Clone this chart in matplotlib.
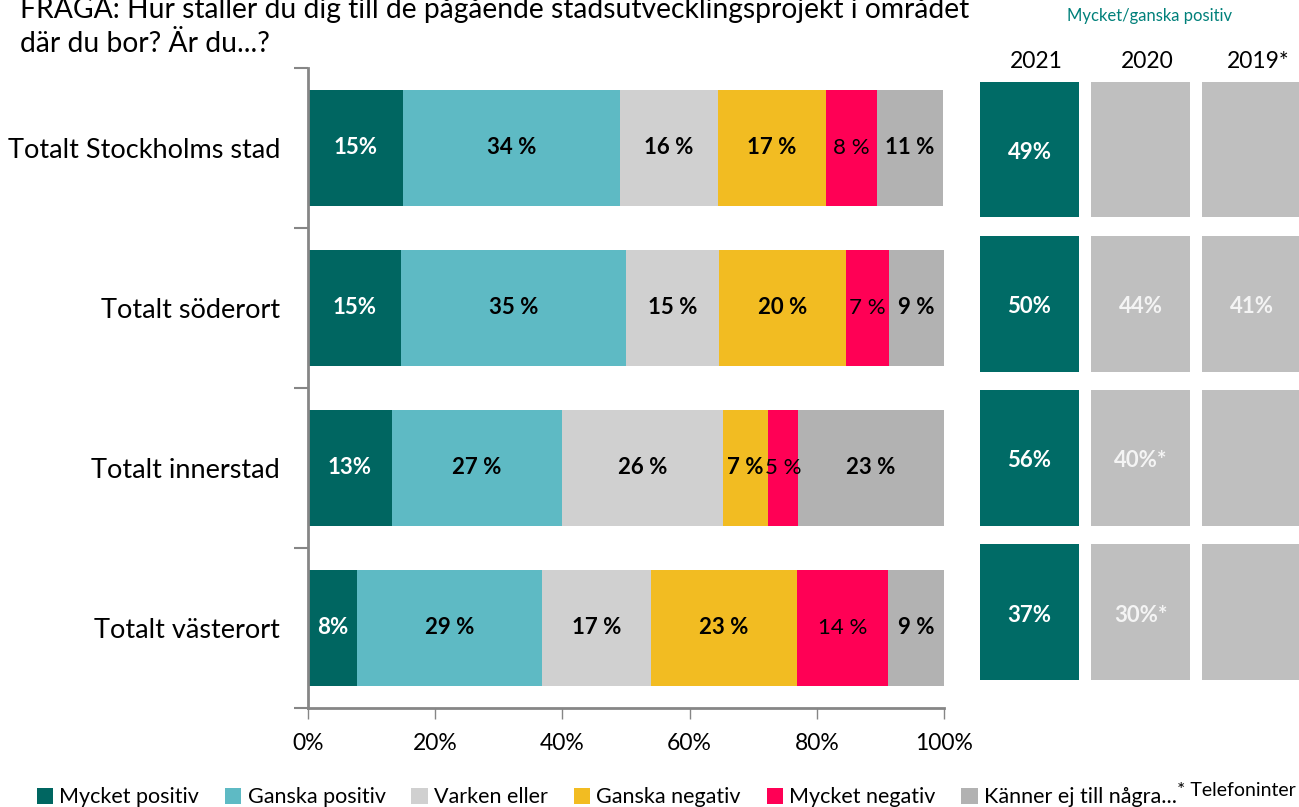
import matplotlib
matplotlib.use("Agg")
import matplotlib.pyplot as plt
from matplotlib.patches import Patch
import numpy as np

plt.rcParams['font.family'] = ['Lato', 'DejaVu Sans']

# areas (top to bottom)
areas = ["Totalt Stockholms stad", "Totalt söderort", "Totalt innerstad", "Totalt västerort"]
categories = ["Mycket positiv", "Ganska positiv", "Varken eller", "Ganska negativ",
              "Mycket negativ", "Känner ej till några..."]
colors = ["#006661", "#5EBAC4", "#D0D0D0", "#F2BC22", "#FF0055", "#B2B2B2"]

# shares in percent, one list per category, order follows areas
mycket_positiv = [14.9, 14.6, 13.2, 7.7]
ganska_positiv = [34.1, 35.4, 26.7, 29.1]
varken_eller = [15.4, 14.6, 25.4, 17.1]
ganska_negativ = [17.1, 20.0, 7.0, 23.0]
mycket_negativ = [7.9, 6.8, 4.7, 14.3]
kanner_ej = [10.5, 8.6, 23.0, 8.8]
series = [mycket_positiv, ganska_positiv, varken_eller, ganska_negativ, mycket_negativ, kanner_ej]

# labels printed in the bars
bar_labels = [
    ["15%", "15%", "13%", "8%"],
    ["34 %", "35 %", "27 %", "29 %"],
    ["16 %", "15 %", "26 %", "17 %"],
    ["17 %", "20 %", "7 %", "23 %"],
    ["8 %", "7 %", "5 %", "14 %"],
    ["11 %", "9 %", "23 %", "9 %"],
]

# right panel: Mycket/ganska positiv per year
years = ["2021", "2020", "2019*"]
pos_2021 = ["49%", "50%", "56%", "37%"]
pos_2020 = ["", "44%", "40%*", "30%*"]
pos_2019 = ["", "41%", "", ""]
year_vals = [pos_2021, pos_2020, pos_2019]

W, H = 1299, 807
fig = plt.figure(figsize=(W / 100, H / 100), dpi=100)

# main stacked bar chart
ax = fig.add_axes([308 / W, 1 - 708 / H, (944 - 308) / W, (708 - 68) / H])
y = np.arange(len(areas))
left = np.zeros(len(areas))
for i, (vals, col) in enumerate(zip(series, colors)):
    vals = np.array(vals)
    ax.barh(y, vals, left=left, height=0.72, color=col, edgecolor='none')
    for k in range(len(areas)):
        cx = left[k] + vals[k] / 2
        if i == 0:
            ax.text(cx, y[k], bar_labels[i][k], ha='center', va='center', color='white',
                    fontsize=16, fontweight='bold')
        elif i == 4:
            ax.text(cx, y[k], bar_labels[i][k], ha='center', va='center', color='black',
                    fontsize=16)
        else:
            ax.text(cx, y[k], bar_labels[i][k], ha='center', va='center', color='black',
                    fontsize=16, fontweight='bold')
    left += vals

ax.set_xlim(0, 100)
ax.set_ylim(3.5, -0.5)
ax.set_xticks([0, 20, 40, 60, 80, 100])
ax.set_xticklabels(["0%", "20%", "40%", "60%", "80%", "100%"], fontsize=16.5)
ax.set_yticks(y)
ax.set_yticklabels(areas, fontsize=19.5)
ax.set_yticks([-0.5, 0.5, 1.5, 2.5, 3.5], minor=True)
ax.tick_params(axis='y', which='major', length=0, pad=20)
ax.tick_params(axis='y', which='minor', length=10, color='#868686', width=1.5)
ax.tick_params(axis='x', length=8, color='#868686', width=1, pad=10)
for s in ['top', 'right']:
    ax.spines[s].set_visible(False)
for s in ['left', 'bottom']:
    ax.spines[s].set_color('#868686')
    ax.spines[s].set_linewidth(2)

# right panel with boxes
ax2 = fig.add_axes([974 / W, 1 - 689 / H, 333 / W, (689 - 72.5) / H])
for j, vals in enumerate(year_vals):
    col = "#006B66" if j == 0 else "#BFBFBF"
    tcol = "white" if j == 0 else "#F4F4F4"
    ax2.barh(y, 0.89, left=j - 0.445, height=0.88, color=col, edgecolor='none')
    for k, v in enumerate(vals):
        if v:
            ax2.text(j, y[k] + 0.02, v, ha='center', va='center', color=tcol,
                     fontsize=16, fontweight='bold')
ax2.set_xlim(-0.5, 2.5)
ax2.set_ylim(3.5, -0.5)
ax2.axis('off')
for j, yr in enumerate(years):
    fig.text((1036 + 111 * j) / W, 1 - 62 / H, yr, ha='center', va='center',
             fontsize=16.5, color='black')

fig.text(1150 / W, 1 - 16 / H, "Mycket/ganska positiv", ha='center', va='center',
         fontsize=12, color='#00807A')

# question text (top partly cut off like the original)
fig.text(20 / W, 1 - 18 / H, "FRÅGA: Hur ställer du dig till de pågående stadsutvecklingsprojekt i området",
         ha='left', va='baseline', fontsize=20.3)
fig.text(20 / W, 1 - 52 / H, "där du bor? Är du...?", ha='left', va='baseline', fontsize=20.3)

# legend
handles = [Patch(facecolor=c, edgecolor='none') for c in colors]
fig.legend(handles, categories, loc='lower left', bbox_to_anchor=(28 / W, -0.011), ncol=6,
           frameon=False, fontsize=15.5, handlelength=0.75, handleheight=0.75,
           handletextpad=0.3, columnspacing=1.2, borderaxespad=0)
fig.text(1177 / W, 1 - 790 / H, "* Telefoninter", ha='left', va='center', fontsize=14)

fig.savefig("out.png", dpi=100)
